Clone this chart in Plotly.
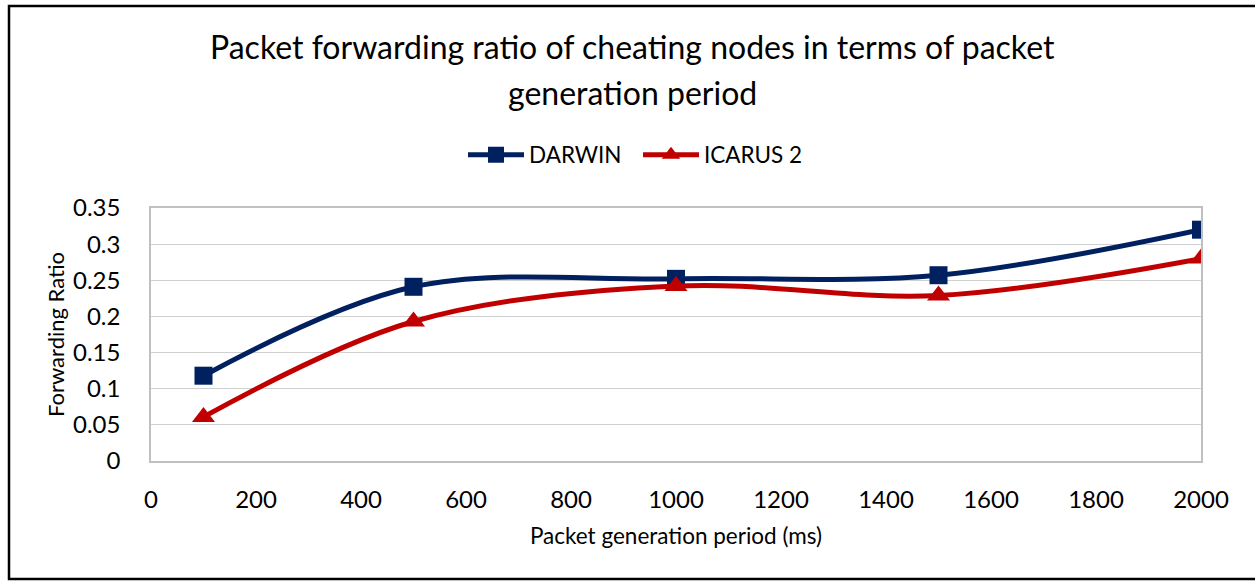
import plotly.graph_objects as go

W, H = 1255, 581
ML, MR, MT, MB = 151, 54, 208, 120
FONT = "Lato"

period_ms = [100, 500, 1000, 1500, 2000]
darwin = [0.118, 0.241, 0.252, 0.257, 0.320]
icarus2 = [0.061, 0.193, 0.242, 0.229, 0.280]

x_ticks = list(range(0, 2001, 200))
y_ticks = [0, 0.05, 0.1, 0.15, 0.2, 0.25, 0.3, 0.35]
y_labels = ["0", "0.05", "0.1", "0.15", "0.2", "0.25", "0.3", "0.35"]

pw, ph = W - ML - MR, H - MT - MB


def px_x(p):
    return (p - ML) / pw


def px_y(p):
    return (H - MB - p) / ph


fig = go.Figure()
fig.add_scatter(
    x=period_ms, y=darwin, name="DARWIN", mode="lines+markers",
    line=dict(color="#002060", width=5, shape="spline", smoothing=1),
    marker=dict(symbol="square", size=18, color="#002060"),
)
fig.add_scatter(
    x=period_ms, y=icarus2, name="ICARUS 2", mode="lines+markers",
    line=dict(color="#C00000", width=5, shape="spline", smoothing=1),
    marker=dict(symbol="triangle-up", size=20, color="#C00000"),
)

title_lines = ["Packet forwarding ratio of cheating nodes in terms of packet",
               "generation period"]
for txt, ypix in zip(title_lines, [47, 92]):
    fig.add_annotation(text=txt, xref="paper", yref="paper", x=px_x(632), y=px_y(ypix),
                       showarrow=False, xanchor="center", yanchor="middle",
                       font=dict(family=FONT, size=32, color="#000000"))

# outer frame of the chart
fig.add_shape(type="rect", xref="paper", yref="paper",
              x0=px_x(9), x1=px_x(1262), y0=px_y(579), y1=px_y(6),
              line=dict(color="#000000", width=2.5), layer="below")

fig.update_layout(
    width=W, height=H, autosize=False,
    margin=dict(l=ML, r=MR, t=MT, b=MB),
    paper_bgcolor="white", plot_bgcolor="white",
    font=dict(family=FONT, size=24, color="#000000"),
    showlegend=True,
    legend=dict(orientation="h", x=px_x(638), xanchor="center", y=px_y(155), yanchor="middle",
                font=dict(size=22.5), itemwidth=56, entrywidth=104, entrywidthmode="pixels",
                traceorder="normal"),
    xaxis=dict(range=[0, 2000], tickvals=x_ticks, showgrid=False, zeroline=False,
               showline=True, mirror=True, linecolor="#c0c0c0", linewidth=1.5,
               ticks="", ticklabelstandoff=16,
               title=dict(text="Packet generation period (ms)", font=dict(size=22.5), standoff=17)),
    yaxis=dict(range=[0, 0.35], tickvals=y_ticks, ticktext=y_labels,
               showgrid=True, gridcolor="#d0d0d0", gridwidth=1.2, zeroline=False,
               showline=True, mirror=True, linecolor="#c0c0c0", linewidth=1.5,
               ticks="", ticklabelstandoff=24,
               title=dict(text="Forwarding Ratio", font=dict(size=22), standoff=2)),
)

fig.write_html("out.html", config={"displayModeBar": False},
               post_script="document.body.style.margin='0';")
